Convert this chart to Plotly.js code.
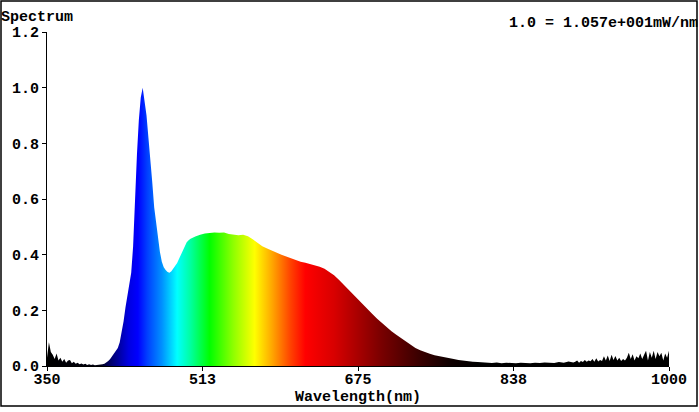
<!DOCTYPE html>
<html>
<head>
<meta charset="utf-8">
<script src="https://cdn.plot.ly/plotly-3.0.1.min.js"></script>
<style>html,body{margin:0;padding:0;background:#fff;}#chart{width:699px;height:412px;}</style>
</head>
<body>
<div id="chart"></div>
<script>
// Wavelength samples (nm) and relative intensity
const wavelengths = [
  350,352,354,356,358,360,362,364,366,368,370,372,374,376,378,380,382,384,386,388,
  390,392,394,396,398,400,402,404,406,408,410,412,414,416,418,420,422,424,426,428,
  430,432,434,436,438,440,442,444,446,448,450,452,454,456,458,460,462,464,466,468,
  470,472,474,476,478,480,482,484,486,488,490,492,494,496,498,500,
  505,510,515,520,525,530,535,540,545,550,555,560,565,570,575,580,585,590,595,600,
  605,610,615,620,625,630,635,640,645,650,655,660,665,670,675,680,685,690,695,700,
  705,710,715,720,725,730,735,740,745,750,755,760,765,770,775,780,785,790,795,800,
  805,810,815,820,825,830,835,840,845,850,855,860,865,870,875,880,885,890,895,900,
  902,904,906,908,910,912,914,916,918,920,922,924,926,928,930,932,934,936,938,940,
  942,944,946,948,950,952,954,956,958,960,962,964,966,968,970,972,974,976,978,980,
  982,984,986,988,990,992,994,996,998,1000
];
const intensity = [
  0.030,0.085,0.050,0.040,0.025,0.045,0.020,0.030,0.015,0.025,0.012,0.020,0.022,0.010,0.015,0.008,0.012,0.006,0.009,0.005,
  0.008,0.004,0.006,0.004,0.005,0.003,0.004,0.004,0.005,0.006,0.008,0.012,0.018,0.025,0.035,0.045,0.055,0.065,0.085,0.120,
  0.160,0.210,0.255,0.295,0.335,0.430,0.610,0.760,0.885,0.965,1.000,0.950,0.900,0.820,0.750,0.660,0.570,0.510,0.450,0.410,
  0.375,0.355,0.345,0.338,0.335,0.340,0.350,0.360,0.370,0.385,0.400,0.420,0.435,0.445,0.452,0.457,
  0.465,0.472,0.476,0.478,0.480,0.479,0.480,0.474,0.472,0.470,0.472,0.466,0.455,0.442,0.430,0.422,0.414,0.407,0.400,0.393,
  0.386,0.380,0.375,0.371,0.367,0.363,0.357,0.349,0.339,0.326,0.310,0.292,0.274,0.256,0.238,0.221,0.204,0.187,0.170,0.154,
  0.139,0.125,0.112,0.100,0.087,0.075,0.065,0.057,0.050,0.044,0.039,0.035,0.031,0.028,0.025,0.022,0.019,0.017,0.015,0.014,
  0.013,0.012,0.011,0.013,0.010,0.012,0.011,0.010,0.012,0.011,0.010,0.012,0.011,0.013,0.012,0.011,0.014,0.012,0.016,0.013,
  0.015,0.020,0.012,0.018,0.014,0.022,0.015,0.020,0.017,0.025,0.015,0.028,0.016,0.022,0.018,0.035,0.020,0.038,0.018,0.040,
  0.022,0.036,0.020,0.030,0.018,0.025,0.020,0.030,0.048,0.025,0.042,0.020,0.035,0.028,0.045,0.025,0.040,0.055,0.020,0.050,
  0.030,0.055,0.025,0.050,0.035,0.048,0.020,0.045,0.030,0.055
];
// Spectral colour stops (nm -> colour)
const colorWavelengths = [350,405,415,425,435,445,455,470,486,500,520,545,567,585,605,620,650,675,700,740,770,800,1000];
const colorValues = ['#000000','#000010','#000060','#0000a0','#0000e0','#0000ff','#0040ff','#0090ff','#00ffff','#00ffa0','#00ff00','#90ff00','#ffff00','#ffa800','#ff4000','#ff0000','#d80000','#a80000','#780000','#380000','#100000','#000000','#000000'];
const xTickVals = [350, 512.5, 675, 837.5, 1000];
const xTickText = ['350','513','675','838','1000'];
const yTickVals = [0,0.2,0.4,0.6,0.8,1.0,1.2];

const xMin = 350, xMax = 1000;
const colorscale = colorWavelengths.map((w,i)=>[(w-xMin)/(xMax-xMin), colorValues[i]]);

const font = {family:'"Liberation Mono", "Courier New", monospace', size:15, color:'#000', weight:'bold'};

const trace = {
  type:'scatter', mode:'lines', x:wavelengths, y:intensity,
  fill:'tozeroy',
  fillgradient:{type:'horizontal', start:xMin, stop:xMax, colorscale:colorscale},
  line:{width:0, color:'#000'},
  hoverinfo:'skip'
};

const L=47, R=669, T=32, B=366, W=699, H=412;
const pw = R-L, ph = B-T;
const px = v => (v-L)/pw;
const py = v => (B-v)/ph;

const layout = {
  width:W, height:H,
  margin:{l:L, r:W-R, t:T, b:H-B, pad:0},
  paper_bgcolor:'#fff', plot_bgcolor:'#fff',
  showlegend:false,
  font:font,
  xaxis:{
    range:[xMin,xMax], tickvals:xTickVals, ticktext:xTickText,
    showgrid:false, zeroline:false, showline:true, linecolor:'#000', linewidth:1,
    ticks:'outside', ticklen:4, tickcolor:'#000', tickwidth:1,
    ticklabelstandoff:-5,
    tickfont:font,
    title:{text:'Wavelength(nm)', font:font, standoff:0}
  },
  yaxis:{
    range:[0,1.2], tickvals:yTickVals, tickformat:'.1f',
    showgrid:false, zeroline:false, showline:true, linecolor:'#000', linewidth:1,
    ticks:'outside', ticklen:4, tickcolor:'#000', tickwidth:1,
    tickfont:font
  },
  annotations:[
    {text:'Spectrum', xref:'paper', yref:'paper', x:px(0), y:py(17), xanchor:'left', yanchor:'middle', showarrow:false, font:font, borderpad:0},
    {text:'1.0 = 1.057e+001mW/nm', xref:'paper', yref:'paper', x:px(699), y:py(23), xanchor:'right', yanchor:'middle', showarrow:false, font:font, borderpad:0}
  ],
  shapes:[
    {type:'rect', xref:'paper', yref:'paper', x0:px(1), x1:px(697), y0:py(406), y1:py(1), line:{color:'#000', width:1.5}, fillcolor:'rgba(0,0,0,0)'}
  ]
};

Plotly.newPlot('chart',[trace],layout,{staticPlot:true, displayModeBar:false});
</script>
</body>
</html>
